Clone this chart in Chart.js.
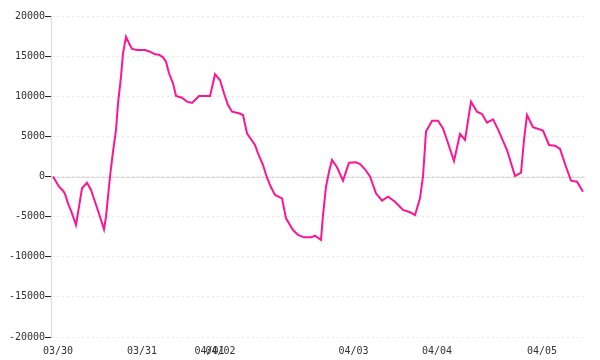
<!DOCTYPE html>
<html>
<head>
<meta charset="utf-8">
<script src="https://cdn.jsdelivr.net/npm/chart.js@4/dist/chart.umd.min.js"></script>
<style>
  html, body { margin: 0; padding: 0; background: #fff; }
  canvas { display: block; }
</style>
</head>
<body>
<canvas id="c" width="600" height="360"></canvas>
<script>
// Sample position (session time units) and value
const times = [0, 4, 6, 10, 12, 15, 19, 23, 26, 29, 34, 38, 42, 47, 51, 53, 57, 60, 63, 65, 68, 70, 73, 76, 79, 84, 92, 97, 102, 106, 110, 113, 116, 120, 123, 129, 134, 139, 142, 146, 157, 160, 162, 167, 171, 175, 179, 186, 190, 194, 198, 202, 205, 210, 214, 218, 222, 229, 233, 240, 245, 251, 258, 262, 268, 270, 273, 276, 279, 284, 290, 296, 303, 307, 312, 317, 323, 329, 335, 342, 350, 357, 362, 367, 370, 373, 379, 385, 390, 394, 401, 407, 412, 418, 424, 429, 434, 440, 445, 454, 462, 468, 471, 474, 480, 490, 496, 502, 507, 513, 518, 524, 530];
const values = [0, -850, -1270, -1770, -2180, -3340, -4590, -6040, -3760, -1470, -770, -1680, -3140, -5010, -6580, -5010, 0, 3090, 5790, 9120, 12440, 15350, 17420, 16600, 15890, 15760, 15760, 15550, 15220, 15180, 14850, 14310, 12860, 11610, 10030, 9820, 9320, 9160, 9530, 10030, 10030, 11610, 12740, 12020, 10370, 8910, 8080, 7880, 7660, 5380, 4640, 3930, 2890, 1430, -150, -1350, -2300, -2720, -5210, -6670, -7290, -7580, -7580, -7380, -7910, -4800, -1270, 600, 2060, 1150, -520, 1720, 1770, 1560, 900, 0, -2100, -3010, -2510, -3140, -4170, -4460, -4800, -2720, 0, 5590, 6940, 6940, 6000, 4550, 1930, 5300, 4550, 9330, 8080, 7790, 6710, 7130, 5880, 3300, 60, 470, 4550, 7660, 6130, 5710, 3930, 3840, 3430, 1220, -520, -650, -1890];
const tickTimes = [5, 89, 156.5, 167.5, 300.5, 384, 489];
const tickLabels = ['03/30', '03/31', '04/01', '04/02', '04/03', '04/04', '04/05'];
const yTicks = [-20000, -15000, -10000, -5000, 0, 5000, 10000, 15000, 20000];

const points = times.map((t, i) => ({ x: t, y: values[i] }));
const FONT = { family: 'DejaVu Sans Mono', size: 10 };

const zeroLine = {
  id: 'zeroLine',
  beforeDatasetsDraw(chart) {
    const { ctx, chartArea, scales } = chart;
    const y = Math.round(scales.y.getPixelForValue(0)) + 0.5;
    ctx.save();
    ctx.strokeStyle = '#dddddd';
    ctx.lineWidth = 1;
    ctx.beginPath();
    ctx.moveTo(chartArea.left, y);
    ctx.lineTo(chartArea.right, y);
    ctx.stroke();
    ctx.restore();
  }
};

new Chart(document.getElementById('c'), {
  type: 'line',
  data: {
    datasets: [{
      data: points,
      borderColor: '#ff1493',
      borderWidth: 2,
      pointRadius: 0,
      tension: 0,
      fill: false
    }]
  },
  plugins: [zeroLine],
  options: {
    responsive: false,
    animation: false,
    devicePixelRatio: 1,
    layout: { padding: { left: 0, right: 15, top: 16, bottom: 0 } },
    plugins: { legend: { display: false }, tooltip: { enabled: false } },
    scales: {
      x: {
        type: 'linear',
        min: -2,
        max: 532,
        afterFit(scale) { scale.height = 23; },
        grid: { display: false, drawTicks: false },
        border: { display: false },
        afterBuildTicks(scale) {
          scale.ticks = tickTimes.map(v => ({ value: v }));
        },
        ticks: {
          autoSkip: false,
          maxRotation: 0,
          minRotation: 0,
          padding: 8,
          color: '#333',
          font: FONT,
          callback: (v, i) => tickLabels[i]
        }
      },
      y: {
        min: -20000,
        max: 20000,
        afterFit(scale) { scale.width = 51; },
        afterBuildTicks(scale) {
          scale.ticks = yTicks.map(v => ({ value: v }));
        },
        grid: {
          color: '#e6e6e6',
          tickColor: '#222',
          tickLength: 6,
          tickWidth: 1
        },
        border: { display: true, color: '#dddddd', width: 1, dash: [2, 3] },
        ticks: {
          padding: 0,
          color: '#333',
          font: FONT,
          callback: v => String(v)
        }
      }
    }
  }
});
</script>
</body>
</html>
